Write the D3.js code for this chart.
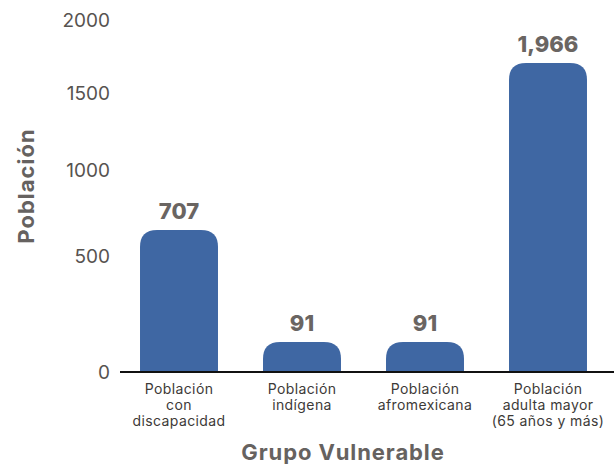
<!DOCTYPE html>
<html>
<head>
<meta charset="utf-8">
<script src="https://cdn.jsdelivr.net/npm/d3@7"></script>
<style>
  html, body { margin: 0; padding: 0; background: #ffffff; }
  svg { display: block; }
  text { font-family: Inter, "Noto Sans", sans-serif; }
</style>
</head>
<body>
<svg id="chart" width="614" height="464"></svg>
<script>
const categories = ["Población con discapacidad", "Población indígena", "Población afromexicana", "Población adulta mayor (65 años y más)"];
const categoryLines = [
  ["Población", "con", "discapacidad"],
  ["Población", "indígena"],
  ["Población", "afromexicana"],
  ["Población", "adulta mayor", "(65 años y más)"]
];
const values = [707, 91, 91, 1966];
const yTicks = [0, 500, 1000, 1500, 2000];
const yTitle = "Población";
const xTitle = "Grupo Vulnerable";

const svg = d3.select("#chart");
const W = 614, H = 464;
const baseY = 372;

// The reference draws its axis ticks and bars on slightly different compressed scales
const yAxisScale = d3.scalePow().exponent(0.8).domain([0, 2000]).range([baseY, 20]);
const yBar = d3.scalePow().exponent(0.76).domain([0, 2000]).range([baseY, 59]);

const x = d3.scaleBand().domain(categories).range([117.5, 609.5])
  .paddingInner(0.366).paddingOuter(0.183);

const barColor = "#3f67a3";

// y tick labels
const yAxis = d3.axisLeft(yAxisScale).tickValues(yTicks).tickSize(0).tickPadding(0).tickFormat(d3.format("d"));
const gy = svg.append("g").attr("transform", "translate(110,0)").call(yAxis);
gy.select(".domain").remove();
gy.selectAll("text")
  .attr("fill", "#575350")
  .style("font-size", "19px")
  .style("font-family", "Inter, sans-serif")
  .attr("dy", "0.35em");

// bars with rounded top corners
function barPath(x0, w, yTop, yBottom, r) {
  const h = yBottom - yTop;
  r = Math.min(r, h, w / 2);
  return `M${x0},${yBottom}V${yTop + r}Q${x0},${yTop} ${x0 + r},${yTop}H${x0 + w - r}Q${x0 + w},${yTop} ${x0 + w},${yTop + r}V${yBottom}Z`;
}

svg.append("g").selectAll("path")
  .data(values)
  .join("path")
  .attr("d", (d, i) => barPath(x(categories[i]), x.bandwidth(), yBar(d), baseY, 17))
  .attr("fill", barColor);

// value labels
svg.append("g").selectAll("text")
  .data(values)
  .join("text")
  .attr("x", (d, i) => x(categories[i]) + x.bandwidth() / 2)
  .attr("y", d => yBar(d) - 11)
  .attr("text-anchor", "middle")
  .attr("fill", "#6a6562")
  .style("font-size", "22px")
  .style("font-weight", "800")
  .text(d => d3.format(",")(d));

// x axis line
svg.append("line")
  .attr("x1", 120).attr("x2", W)
  .attr("y1", baseY).attr("y2", baseY)
  .attr("stroke", "#111").attr("stroke-width", 2);

// category labels
const cat = svg.append("g").selectAll("text")
  .data(categories)
  .join("text")
  .attr("text-anchor", "middle")
  .attr("fill", "#3d3a38")
  .style("font-size", "14px")
  .style("letter-spacing", "0.4px");
cat.each(function(d, i) {
  const t = d3.select(this);
  categoryLines[i].forEach((line, j) => {
    t.append("tspan")
      .attr("x", x(d) + x.bandwidth() / 2)
      .attr("y", 389 + j * 16)
      .attr("dy", "0.35em")
      .text(line);
  });
});

// axis titles
svg.append("text")
  .attr("transform", "translate(26,186) rotate(-90)")
  .attr("text-anchor", "middle")
  .attr("dy", "0.35em")
  .attr("fill", "#666260")
  .style("font-size", "22px")
  .style("font-weight", "700")
  .style("letter-spacing", "1px")
  .text(yTitle);

svg.append("text")
  .attr("x", 343).attr("y", 452)
  .attr("text-anchor", "middle")
  .attr("dy", "0.35em")
  .attr("fill", "#666260")
  .style("font-size", "22px")
  .style("font-weight", "700")
  .style("letter-spacing", "0.9px")
  .text(xTitle);
</script>
</body>
</html>
